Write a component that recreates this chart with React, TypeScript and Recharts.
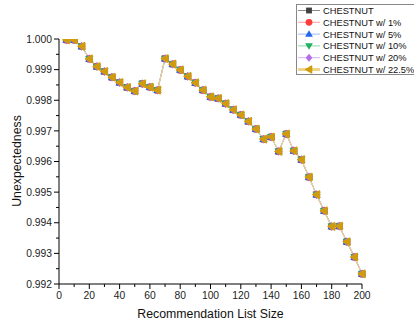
import React from 'react';
import { LineChart, Line, XAxis, YAxis } from 'recharts';

const listSizes = [
  5, 10, 15, 20, 25, 30, 35, 40, 45, 50, 55, 60, 65, 70, 75, 80, 85, 90, 95, 100,
  105, 110, 115, 120, 125, 130, 135, 140, 145, 150, 155, 160, 165, 170, 175, 180, 185, 190, 195, 200,
];

const unexpectedness = [
  0.99997, 0.99997, 0.99976, 0.99935, 0.9991, 0.99894, 0.99875, 0.99858, 0.99842, 0.9983,
  0.99854, 0.99843, 0.99833, 0.99936, 0.99918, 0.99899, 0.99878, 0.99857, 0.99833, 0.99811,
  0.99806, 0.99789, 0.99769, 0.99752, 0.99731, 0.99706, 0.99673, 0.9968, 0.99633, 0.9969,
  0.99635, 0.99606, 0.99549, 0.99492, 0.99439, 0.99388, 0.99389, 0.99338, 0.99288, 0.99233,
];

const xTicks = [0, 10, 20, 30, 40, 50, 60, 70, 80, 90, 100, 110, 120, 130, 140, 150, 160, 170, 180, 190, 200];
const yTicks = [0.992, 0.9925, 0.993, 0.9935, 0.994, 0.9945, 0.995, 0.9955, 0.996, 0.9965, 0.997, 0.9975, 0.998, 0.9985, 0.999, 0.9995, 1.0];

type Shape = 'square' | 'circle' | 'up' | 'down' | 'diamond' | 'left';

const series: { key: string; name: string; color: string; line: string; shape: Shape }[] = [
  { key: 'base', name: 'CHESTNUT', color: '#404040', line: '#8a8a8a', shape: 'square' },
  { key: 'p1', name: 'CHESTNUT w/ 1%', color: '#ff3b3b', line: '#ff9c9c', shape: 'circle' },
  { key: 'p5', name: 'CHESTNUT w/ 5%', color: '#2464e8', line: '#9cbcf2', shape: 'up' },
  { key: 'p10', name: 'CHESTNUT w/ 10%', color: '#20b060', line: '#90d8ae', shape: 'down' },
  { key: 'p20', name: 'CHESTNUT w/ 20%', color: '#b06ee8', line: '#d6b4f4', shape: 'diamond' },
  { key: 'p225', name: 'CHESTNUT w/ 22.5%', color: '#d09c0c', line: '#efd487', shape: 'left' },
];

const data = listSizes.map((x, i) => {
  const row: Record<string, number> = { x };
  series.forEach((s) => {
    row[s.key] = unexpectedness[i];
  });
  return row;
});

const FONT = '"Liberation Sans", Arial, sans-serif';

function Marker({ cx, cy, shape, color, size = 3.7 }: { cx: number; cy: number; shape: Shape; color: string; size?: number }) {
  const r = size;
  switch (shape) {
    case 'square':
      return <rect x={cx - r * 0.86} y={cy - r * 0.86} width={r * 1.72} height={r * 1.72} fill={color} />;
    case 'circle':
      return <circle cx={cx} cy={cy} r={r} fill={color} />;
    case 'up':
      return <polygon points={`${cx},${cy - r - 0.5} ${cx - r - 0.5},${cy + r - 0.8} ${cx + r + 0.5},${cy + r - 0.8}`} fill={color} />;
    case 'down':
      return <polygon points={`${cx},${cy + r + 0.5} ${cx - r - 0.5},${cy - r + 0.8} ${cx + r + 0.5},${cy - r + 0.8}`} fill={color} />;
    case 'diamond':
      return <polygon points={`${cx},${cy - r - 0.6} ${cx + r},${cy} ${cx},${cy + r + 0.6} ${cx - r},${cy}`} fill={color} />;
    default:
      return <polygon points={`${cx - r},${cy} ${cx + r - 0.8},${cy - r} ${cx + r - 0.8},${cy + r}`} fill={color} stroke={color} strokeWidth={1.4} strokeLinejoin="round" />;
  }
}

const XTick = ({ x, y, payload }: any) => {
  const major = payload.value % 20 === 0;
  return (
    <g>
      <line x1={x} x2={x} y1={y} y2={y + (major ? 5 : 3)} stroke="#000" strokeWidth={1} />
      {major && (
        <text x={x} y={y + 15} textAnchor="middle" fontSize={10.3} fontFamily={FONT} fill="#222">
          {payload.value}
        </text>
      )}
    </g>
  );
};

const YTick = ({ x, y, payload }: any) => {
  const major = Math.round(payload.value * 10000) % 10 === 0;
  return (
    <g>
      <line x1={x} x2={x - (major ? 5 : 3)} y1={y} y2={y} stroke="#000" strokeWidth={1} />
      {major && (
        <text x={x - 7} y={y + 3.7} textAnchor="end" fontSize={10.3} fontFamily={FONT} fill="#222">
          {payload.value.toFixed(3)}
        </text>
      )}
    </g>
  );
};

function LegendBox() {
  return (
    <div
      style={{
        position: 'absolute',
        left: 296,
        top: 4,
        width: 118,
        height: 71,
        border: '1px solid #888',
        borderRight: 'none',
        background: '#fff',
        boxSizing: 'border-box',
      }}
    >
      <svg width={118} height={70} style={{ display: 'block' }}>
        {series.map((s, i) => {
          const cy = 5.5 + i * 11.8;
          return (
            <g key={s.key}>
              <line x1={1} x2={23} y1={cy} y2={cy} stroke={s.line} strokeWidth={s.shape === 'left' ? 3 : 1} />
              <Marker cx={12} cy={cy} shape={s.shape} color={s.color} size={3.4} />
              <text x={26} y={cy + 3.4} fontSize={9.3} fontFamily={FONT} fill="#111">
                {s.name}
              </text>
            </g>
          );
        })}
      </svg>
    </div>
  );
}

export default function App() {
  return (
    <div style={{ position: 'absolute', left: 0, top: 0, width: 414, height: 324, background: '#fff', fontFamily: FONT }}>
      <LineChart width={414} height={324} data={data} margin={{ top: 39, right: 52, bottom: 0, left: 0 }}>
        <XAxis
          dataKey="x"
          type="number"
          domain={[0, 200]}
          ticks={xTicks}
          interval={0}
          tickSize={0}
          tickMargin={0}
          height={40}
          axisLine={{ stroke: '#000', strokeWidth: 1 }}
          tickLine={false}
          tick={<XTick />}
        />
        <YAxis
          type="number"
          domain={[0.992, 1.0]}
          ticks={yTicks}
          interval={0}
          tickSize={0}
          tickMargin={0}
          width={59}
          allowDataOverflow
          axisLine={{ stroke: '#000', strokeWidth: 1 }}
          tickLine={false}
          tick={<YTick />}
        />
        {series.map((s) => (
          <Line
            key={s.key}
            dataKey={s.key}
            name={s.name}
            stroke={s.line}
            strokeWidth={1}
            isAnimationActive={false}
            dot={(p: any) => (
              <g key={`${s.key}-${p.index}`}>
                <Marker cx={p.cx} cy={p.cy} shape={s.shape} color={s.color} />
              </g>
            )}
            activeDot={false}
          />
        ))}
      </LineChart>
      <div
        style={{
          position: 'absolute',
          left: 59,
          width: 303,
          top: 307,
          textAlign: 'center',
          fontSize: 12.3,
          color: '#111',
        }}
      >
        Recommendation List Size
      </div>
      <div
        style={{
          position: 'absolute',
          left: 17,
          top: 161,
          transform: 'translate(-50%, -50%) rotate(-90deg)',
          whiteSpace: 'nowrap',
          fontSize: 12.3,
          color: '#111',
        }}
      >
        Unexpectedness
      </div>
      <LegendBox />
    </div>
  );
}
